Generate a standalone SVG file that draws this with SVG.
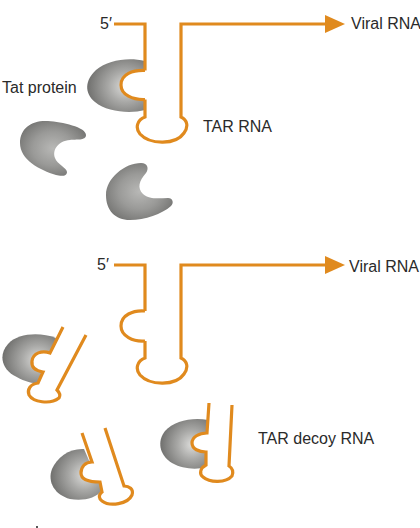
<svg xmlns="http://www.w3.org/2000/svg" width="420" height="528" viewBox="0 0 420 528">
<style>
  text { font-family: "Liberation Sans", Arial, sans-serif; font-size: 16px; fill: #2a2a2a; }
  .rna { fill: none; stroke: #e08a1e; stroke-width: 3.200; stroke-linejoin: miter; }
  .head { fill: #e08a1e; }
</style>
<defs>
  <radialGradient id="shade" cx="0.66" cy="0.52" r="0.66">
    <stop offset="0" stop-color="#dcdcda"/>
    <stop offset="0.45" stop-color="#a8a8a6"/>
    <stop offset="1" stop-color="#70706e"/>
  </radialGradient>
  <radialGradient id="shade-free" cx="0.5" cy="0.5" r="0.62">
    <stop offset="0" stop-color="#b8b8b6"/>
    <stop offset="0.5" stop-color="#9a9a98"/>
    <stop offset="1" stop-color="#6e6e6c"/>
  </radialGradient>
</defs>
<rect width="420" height="528" fill="#ffffff"/>

<!-- free and bound Tat protein -->
<g id="tat-bound-top"><path fill="url(#shade)" d="M145,61 C128,57 108,60 96,70 C85,80 84,93 95,102 C107,112 130,114 145,110 Z"/></g>
<g id="tat-free-1"><path fill="url(#shade-free)" d="M20,143 C20,128 32,120 48,121 C62,122 86,127 86,135 C86,141 76,139 70,140 C58,141 52,150 55,158 C57,164 67,168 67,172 C67,177 60,176 56,175 C40,170 20,160 20,143Z"/></g>
<g id="tat-free-2"><path fill="url(#shade-free)" d="M106,195 C106,178 125,163 141,163 C148,163 149,169 146,173 C139,181 137,188 143,194 C150,200 160,198 168,198 C173,198 174,203 171,206 C162,214 145,220 130,220 C115,220 106,210 106,195Z"/></g>
<g id="tat-decoy-a"><path fill="url(#shade)" d="M56,338 C40,332 18,333 8,344 C-1,354 1,367 13,375 C23,381 33,384 38,383 Z"/></g>
<g id="tat-decoy-b"><path fill="url(#shade)" d="M84,449 C70,448 57,457 52,469 C47,482 55,495 70,499 C82,501 96,499 102,490 Z"/></g>
<g id="tat-decoy-c"><path fill="url(#shade)" d="M208,420 C192,417 174,421 165,431 C157,441 159,455 172,463 C182,469 197,470 206,467 Z"/></g>

<!-- RNA strands -->
<g id="tar-rna-top"><path class="rna" style="fill:#fff" d="M145,70.500 C133,70 121,74 121,85 C121,95 133,100 145,99.500"/></g>
<g id="tar-rna-bottom"><path class="rna" d="M145,311 C133,310 121,315 121,326 C121,336 133,342 145,341"/></g>
<g id="tar-decoy-a"><path class="rna" style="fill:#fff" d="M63,327 L50,353 C42,350 33,353 32,361 C31,368 37,371 43,372 L38,383 C30,384 27,390 29,395 C33,402 50,405 59,398 C61,395 59,392 57,390 L86,335"/></g>
<g id="tar-decoy-b"><path class="rna" style="fill:#fff" d="M82,433 L92,462 C85,462 81,467 81,473 C81,480 90,482 100,482 L102,492 C98,495 99,499 102,501 C110,507 128,504 132,495 C134,489 129,486 124,486 L105,428"/></g>
<g id="tar-decoy-c"><path class="rna" style="fill:#fff" d="M209,403 L207,433 C199,433 192,437 192,443 C192,449 199,452 206,452 L206,465 C200,468 199,474 203,477 C210,483 226,483 232,476 C234,471 232,468 229,466 L232,405"/></g>

<g id="connectors">
  <path class="rna" d="M114,24 H145 V70.500 M145,99.500 V117 C137,120 135,128 140,134 C150,145 176,145 184,133 C189,126 187,120 181,117 V24 H325"/>
  <path class="head" d="M325,15 L345,24 L325,33 Z"/>
  <path class="rna" d="M114,265 H145 V311 M145,341 V358 C137,361 135,369 140,375 C150,386 176,386 184,374 C189,367 187,361 181,358 V265 H325"/>
  <path class="head" d="M325,256 L345,265 L325,274 Z"/>
</g>

<g id="labels">
  <text x="100" y="29">5′</text>
  <text x="351" y="29">Viral RNA</text>
  <text x="2" y="93">Tat protein</text>
  <text x="203" y="132">TAR RNA</text>
  <text x="97" y="270">5′</text>
  <text x="349" y="272">Viral RNA</text>
  <text x="258" y="444">TAR decoy RNA</text>
</g>
<rect x="36" y="526" width="2" height="2" fill="#555555"/>
</svg>
